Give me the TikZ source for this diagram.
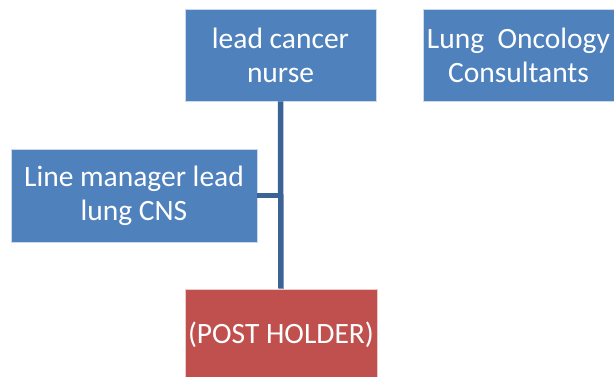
\documentclass[tikz,border=0pt]{standalone}
\usepackage{fontspec}
\setmainfont{Carlito}
\usepackage{tikz}
\definecolor{boxblue}{HTML}{4F81BD}
\definecolor{boxred}{HTML}{C0504D}
\definecolor{linkblue}{HTML}{3C6395}

\begin{document}
\begin{tikzpicture}[x=1pt,y=-1pt,
    post/.style={fill=boxblue, draw=white!70!boxblue, line width=0.6pt,
      text=white, align=center, inner sep=0pt,
      font=\fontsize{29.5}{34}\selectfont},
    link/.style={draw=linkblue, line width=5.5pt}]
  \useasboundingbox (0,0) rectangle (614,376);
  \node[post, minimum width=191pt, minimum height=92pt] (lead) at (280.5,55)
    {lead cancer\\nurse};
  \node[post, minimum width=191pt, minimum height=92pt] (cons) at (518.5,55)
    {Lung~ Oncology\\Consultants};
  \node[post, minimum width=246pt, minimum height=93pt] (line) at (134,195.5)
    {Line manager lead\\lung CNS};
  \node[post, fill=boxred, draw=white!70!boxred,
    minimum width=192pt, minimum height=92pt] (holder) at (281,335)
    {(POST HOLDER)};
  \coordinate (join) at (lead.south |- line.east);
  \draw[link] (lead.south) -- (holder.north);
  \draw[link] (line.east) -- (join);
\end{tikzpicture}
\end{document}
